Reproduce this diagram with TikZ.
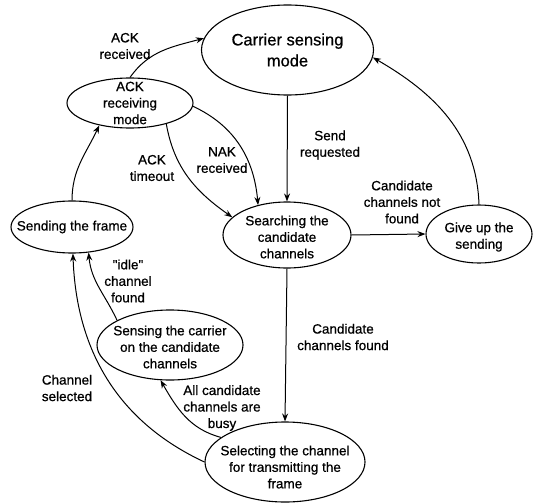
\documentclass[tikz,border=0pt]{standalone}
\usepackage{fontspec}
\newfontfamily\lsans{Liberation Sans}[FakeBold=0.7]
\usetikzlibrary{shapes.geometric,arrows.meta}
\begin{document}
\begin{tikzpicture}[x=1pt,y=1pt,
  state/.style={draw, ellipse, line width=1.1pt, inner sep=0pt},
  txt/.style={font=\lsans\fontsize{13.5}{16.5}\selectfont, align=center, inner sep=0pt},
  big/.style={font=\lsans\fontsize{16.5}{21}\selectfont, align=center, inner sep=0pt},
  arr/.style={-{Stealth[length=8pt,width=6pt]}, line width=1pt}]
\useasboundingbox (0,0) rectangle (535,-503);

% states
\node[state, minimum width=172pt, minimum height=90pt,
      label={[big]center:Carrier sensing\\mode}] (carrier) at (287.5,-50) {};
\node[state, minimum width=126pt, minimum height=50pt,
      label={[txt]center:ACK\\receiving\\mode}] (ack) at (130,-103) {};
\node[state, minimum width=122pt, minimum height=52pt,
      label={[txt]center:Sending the frame}] (send) at (72,-227) {};
\node[state, minimum width=128pt, minimum height=66pt,
      label={[txt,yshift=-2pt]center:Searching the\\candidate\\channels}] (search) at (287,-235) {};
\node[state, minimum width=106pt, minimum height=58pt,
      label={[txt,yshift=-3pt]center:Give up the\\sending}] (giveup) at (479,-234) {};
\node[state, minimum width=146pt, minimum height=70pt,
      label={[txt,yshift=-2pt]center:Sensing the carrier\\on the candidate\\channels}] (sensing) at (170,-345) {};
\node[state, minimum width=160pt, minimum height=80pt,
      label={[txt,yshift=-5pt]center:Selecting the channel\\for transmitting the\\frame}] (select) at (285,-462) {};

% connectors
\draw[arr] (ack.north) to[out=55,in=195] (carrier.172);
\draw[arr] (carrier.south) -- (search.north);
\draw[arr] (ack.-30) to[out=-80,in=145] (search.162);
\draw[arr] (ack.-3) to[out=-25,in=95] (search.134);
\draw[arr] (search.east) -- (giveup.west);
\draw[arr] (giveup.north) to[out=92,in=-30] (carrier.-5);
\draw[arr] (send.north) to[out=90,in=-115] (ack.216);
\draw[arr] (search.south) -- (select.north);
\draw[arr] (select.159) to[out=165,in=-60] (sensing.-105);
\draw[arr] (sensing.155) to[out=115,in=-85] (send.-57);
\draw[arr] (select.west) to[out=155,in=-88] (send.-88);

% labels
\node[txt] (l1) at (125,-46) {ACK\\received};
\node[txt] (l2) at (330,-145) {Send\\requested};
\node[txt] (l3) at (152,-168) {ACK\\timeout};
\node[txt] (l4) at (222,-160) {NAK\\received};
\node[txt] (l5) at (402,-202) {Candidate\\channels not\\found};
\node[txt] (l6) at (343,-337) {Candidate\\channels found};
\node[txt] (l7) at (222,-408) {All candidate\\channels are\\busy};
\node[txt] (l8) at (128,-281) {"idle"\\channel\\found};
\node[txt] (l9) at (67,-388) {Channel\\selected};
\end{tikzpicture}
\end{document}
